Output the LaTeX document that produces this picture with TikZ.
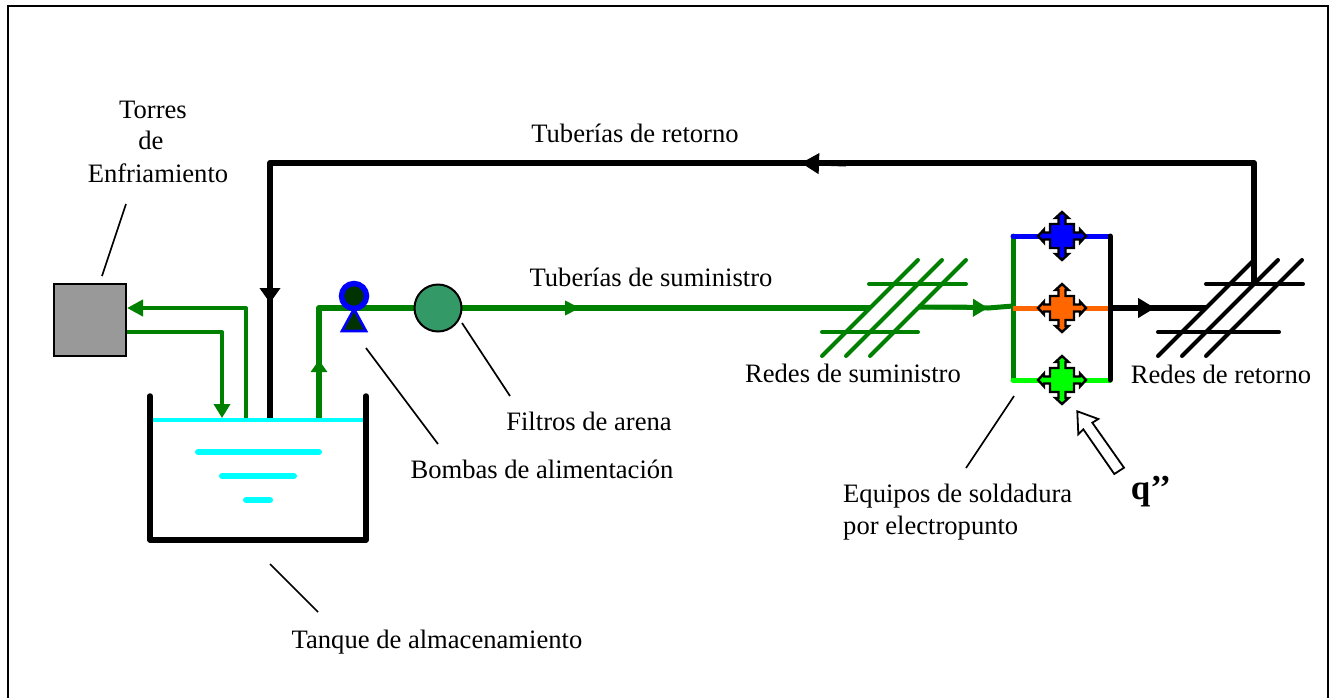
\documentclass[tikz,border=0pt]{standalone}
\usepackage{fontspec}
\setmainfont{Liberation Serif}
\usetikzlibrary{arrows.meta}
\definecolor{verdetubo}{HTML}{008000}
\definecolor{verdefiltro}{HTML}{339966}
\definecolor{verdeoscuro}{HTML}{003300}
\definecolor{naranja}{HTML}{FF6600}
\definecolor{aguacian}{HTML}{00FFFF}
\definecolor{azulpuro}{HTML}{0000FF}
\definecolor{verdepuro}{HTML}{00FF00}
\definecolor{grisfrio}{HTML}{999999}
\tikzset{
    etiqueta/.style={font=\fontsize{26.6}{30}\selectfont, inner sep=0pt, anchor=base},
    guia/.style={line width=1.7pt, black},
    tubonegro/.style={line width=6pt, black, line join=round},
    tuboverde/.style={line width=6pt, verdetubo, line join=round},
    tubofino/.style={line width=4pt, verdetubo, line join=round},
    punta/.style={-{Triangle[length=16pt,width=16pt]}},
    puntanegra/.style={-{Triangle[length=15pt,width=20pt]}},
    malla/.style={line width=4pt, line cap=round},
    agua/.style={line width=6pt, aguacian, line cap=round},
    rama/.style={line width=5pt, line cap=round},
}
\newcommand{\cruzflechas}[2]{
    \draw[fill=#2, line width=2.4pt, line join=miter, shift={(#1)}]
        (-12,-12) -- (-3.5,-12) -- (-3.5,-18) -- (-6.5,-18) -- (0,-24) -- (6.5,-18) -- (3.5,-18) -- (3.5,-12)
        -- (12,-12) -- (12,-3.5) -- (18,-3.5) -- (18,-6.5) -- (24,0) -- (18,6.5) -- (18,3.5) -- (12,3.5)
        -- (12,12) -- (3.5,12) -- (3.5,18) -- (6.5,18) -- (0,24) -- (-6.5,18) -- (-3.5,18) -- (-3.5,12)
        -- (-12,12) -- (-12,3.5) -- (-18,3.5) -- (-18,6.5) -- (-24,0) -- (-18,-6.5) -- (-18,-3.5) -- (-12,-3.5) -- cycle;
}
\begin{document}
\begin{tikzpicture}[x=1pt, y=-1pt]
    \useasboundingbox (0,0) rectangle (1332,697);
    \draw[line width=2.2pt] (8,699) -- (8,6) -- (1328,6) -- (1328,699);

    % tanque
    \draw[line width=5.5pt, line cap=round, line join=round] (150,396) -- (150,540) -- (366,540) -- (366,396);
    \draw[agua] (198,452) -- (319,452);
    \draw[agua] (222,476) -- (294,476);
    \draw[agua] (246,500) -- (270,500);

    % torres
    \node[draw, line width=2pt, fill=grisfrio, minimum size=72pt, inner sep=0pt] (torre) at (90,320) {};
    \coordinate (salidaTorre) at (torre.east |- 0,332);
    \coordinate (codoBaja) at (222,332);
    \coordinate (tanqueBaja) at (222,418);
    \coordinate (tanqueSube) at (246,418);
    \coordinate (codoSube) at (246,308);
    \coordinate (entradaTorre) at (torre.east |- 0,308);
    \draw[tubofino, -{Triangle[length=14pt,width=16pt]}] (salidaTorre) -- (codoBaja) -- (tanqueBaja);
    \draw[tubofino, punta] (tanqueSube) -- (codoSube) -- (entradaTorre);

    % retorno
    \coordinate (bajaRetorno) at (1254,284);
    \coordinate (arribaDer) at (1254,163);
    \coordinate (flechaArriba) at (801,163);
    \coordinate (arribaIzq) at (270,163);
    \coordinate (flechaIzq) at (270,303);
    \coordinate (tanqueRetorno) at (270,422);
    \draw[tubonegro] (bajaRetorno) -- (arribaDer) -- (flechaArriba);
    \draw[tubonegro] (flechaArriba) -- (arribaIzq) -- (tanqueRetorno);
    \draw[tubonegro, line width=4pt, -{Triangle[length=18pt,width=20pt]}] (846,164.5) -- (flechaArriba);
    \draw[tubonegro, puntanegra] (arribaIzq) -- (flechaIzq);

    % suministro
    \coordinate (tanqueBomba) at (319,418);
    \coordinate (flechaBomba) at (319,360);
    \coordinate (codoBomba) at (319,308);
    \coordinate (flechaFiltro) at (580,308);
    \coordinate (redIn) at (870,308);
    \coordinate (redOut) at (918,307);
    \coordinate (flechaEquipo) at (988,308);
    \coordinate (equipoIn) at (1013,306);
    \draw[tuboverde] (tanqueBomba) -- (codoBomba) -- (redIn);
    \draw[tuboverde, -{Triangle[length=12pt,width=16pt]}] (tanqueBomba) -- (flechaBomba);
    \draw[tubofino, -{Triangle[length=15pt,width=14pt]}] (532,308) -- (flechaFiltro);
    \draw[tuboverde, line width=5pt] (redOut) -- (960,307) -- (988,308) -- (equipoIn);
    \draw[tubofino, -{Triangle[length=15pt,width=17pt]}] (redOut) -- (flechaEquipo);

    \draw[line width=4.4pt, aguacian] (153,420) -- (363,420);

    % bomba y filtro
    \node[circle, draw=azulpuro, line width=5.5pt, fill=verdeoscuro, minimum size=25pt, inner sep=0pt] (bomba) at (354,296) {};
    \draw[draw=azulpuro, line width=2.6pt, fill=verdeoscuro, line join=miter] (354,309) -- (366,331) -- (342,331) -- cycle;
    \node[circle, draw, line width=2pt, fill=verdefiltro, minimum size=47pt, inner sep=0pt] (filtro) at (438,308) {};

    % redes de suministro
    \begin{scope}[malla, verdetubo]
        \foreach \i in {0,24,48} {
            \draw (822+\i,356) -- (918+\i,260);
        }
        \draw (869,284) -- (966,284);
        \draw (822,332) -- (918,332);
    \end{scope}

    % redes de retorno
    \begin{scope}[malla]
        \foreach \i in {0,24,48} {
            \draw (1158+\i,356) -- (1254+\i,260);
        }
        \draw (1206,284) -- (1303,284);
        \draw (1158,332) -- (1279,332);
    \end{scope}

    % equipos de soldadura
    \coordinate (equipoArrIzq) at (1013,236);
    \coordinate (equipoArrDer) at (1110,236);
    \coordinate (equipoMedIzq) at (1013,308);
    \coordinate (equipoMedDer) at (1110,308);
    \coordinate (equipoAbaIzq) at (1013,380);
    \coordinate (equipoAbaDer) at (1110,380);
    \coordinate (flechaSalida) at (1155,308);
    \coordinate (redRetorno) at (1206,308);
    \draw[rama, verdetubo] (equipoArrIzq) -- (equipoAbaIzq);
    \draw[rama, azulpuro] (equipoArrIzq) -- (equipoArrDer);
    \draw[rama, naranja, line cap=butt] (equipoMedIzq) -- (equipoMedDer);
    \draw[rama, verdepuro] (equipoAbaIzq) -- (equipoAbaDer);
    \draw[tubonegro, line width=5pt, line cap=round] (equipoArrDer) -- (equipoAbaDer);
    \draw[tubonegro] (equipoMedDer) -- (redRetorno);
    \draw[tubonegro, -{Triangle[length=17pt,width=19pt]}] (equipoMedDer) -- (flechaSalida);
    \cruzflechas{1062,236}{azulpuro}
    \cruzflechas{1062,308}{naranja}
    \cruzflechas{1062,380}{verdepuro}

    % flecha de calor
    \draw[fill=white, line width=1.8pt] (1077.3,411.3) -- (1098.3,419) -- (1092.3,422.7) -- (1124,467.7) -- (1114.3,474) -- (1083.3,429.3) -- (1078.3,434.3) -- cycle;

    % textos
    \node[etiqueta] (lblTorres) at (153,118) {Torres};
    \node[etiqueta] (lblDe) at (151,149) {de};
    \node[etiqueta] (lblEnfria) at (158,182) {Enfriamiento};
    \node[etiqueta] (lblRetorno) at (635,142) {Tuberías de retorno};
    \node[etiqueta] (lblSuministro) at (651,286) {Tuberías de suministro};
    \node[etiqueta] (lblFiltros) at (589,430) {Filtros de arena};
    \node[etiqueta] (lblBombas) at (542,478) {Bombas de alimentación};
    \node[etiqueta] (lblTanque) at (437,648) {Tanque de almacenamiento};
    \node[etiqueta] (lblRedSum) at (853,382) {Redes de suministro};
    \node[etiqueta] (lblRedRet) at (1221,383) {Redes de retorno};
    \node[etiqueta, anchor=base west] (lblEquipos) at (843,502) {Equipos de soldadura};
    \node[etiqueta, anchor=base west] (lblPor) at (843,534) {por electropunto};
    \node[etiqueta, font=\fontsize{35}{38}\selectfont\bfseries] (lblCalor) at (1151,499) {q’’};

    % guias
    \coordinate (guiaTorreA) at (126,204);
    \coordinate (guiaTorreB) at (102,276);
    \coordinate (guiaBombaA) at (366,348);
    \coordinate (guiaBombaB) at (438,444);
    \coordinate (guiaFiltroA) at (462,323);
    \coordinate (guiaFiltroB) at (510,396);
    \coordinate (guiaTanqueA) at (270,564);
    \coordinate (guiaTanqueB) at (318,612);
    \coordinate (guiaEquipoA) at (1014,396);
    \coordinate (guiaEquipoB) at (966,468);
    \draw[guia] (guiaTorreA) -- (guiaTorreB);
    \draw[guia] (guiaBombaA) -- (guiaBombaB);
    \draw[guia] (guiaFiltroA) -- (guiaFiltroB);
    \draw[guia] (guiaTanqueA) -- (guiaTanqueB);
    \draw[guia] (guiaEquipoA) -- (guiaEquipoB);
\end{tikzpicture}
\end{document}
